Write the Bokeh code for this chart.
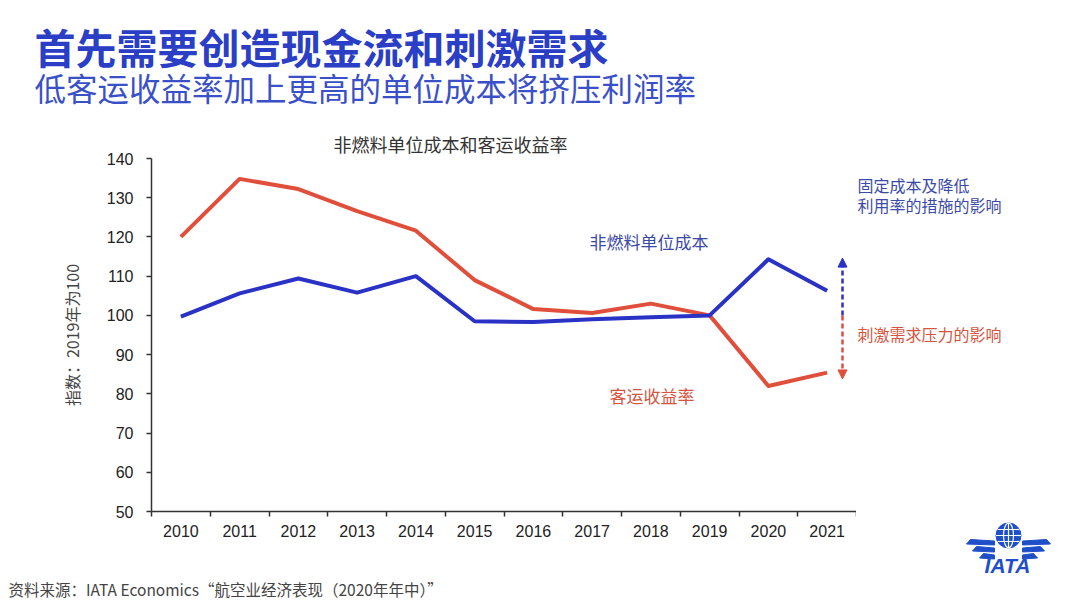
import numpy as np
from bokeh.plotting import figure
from bokeh.layouts import column, row
from bokeh.models import Label, Arrow, NormalHead, FixedTicker, Range1d
from bokeh.embed import file_html
from bokeh.resources import INLINE

# ---------------- data ----------------
years = ["2010", "2011", "2012", "2013", "2014", "2015", "2016", "2017", "2018", "2019", "2020", "2021"]
passenger_yield = [120.0, 134.8, 132.2, 126.6, 121.6, 109.0, 101.6, 100.6, 103.0, 100.0, 82.0, 85.4]
nonfuel_unit_cost = [99.7, 105.6, 109.4, 105.8, 110.0, 98.5, 98.3, 99.0, 99.5, 100.0, 114.3, 106.3]
y_ticks = [50, 60, 70, 80, 90, 100, 110, 120, 130, 140]
cost_arrow = [100.0, 114.6]    # dashed arrow: impact of fixed costs / lower utilisation
demand_arrow = [100.0, 83.8]   # dashed arrow: impact of demand stimulation

title = "首先需要创造现金流和刺激需求"
subtitle = "低客运收益率加上更高的单位成本将挤压利润率"
chart_title = "非燃料单位成本和客运收益率"
y_label = "指数：2019年为100"
source_txt = "资料来源：IATA Economics“航空业经济表现（2020年年中）”"
note_cost = ["固定成本及降低", "利用率的措施的影响"]
note_demand = "刺激需求压力的影响"
name_cost = "非燃料单位成本"
name_yield = "客运收益率"

RED = "#e04f3b"
BLUE = "#2a32c6"
NOTE_BLUE = "#3b4aa6"
NOTE_RED = "#d4553f"
CJK = "Noto Sans CJK SC"
LAT = "Liberation Sans"

# ---------------- layout geometry (page pixels) ----------------
TOTAL_W, TOTAL_H = 1064, 600
HEAD_H = 120
FRAME_L, FRAME_R = 151, 856
FRAME_T, FRAME_B = 158, 511
FOOT_T = 548
MAIN_W = FRAME_R
MAIN_H = FOOT_T - HEAD_H
SIDE_W = TOTAL_W - MAIN_W
FOOT_H = TOTAL_H - FOOT_T


def blank(w, h, x0, y0):
    f = figure(width=w, height=h, x_range=Range1d(x0, x0 + w), y_range=Range1d(y0 + h, y0),
               x_axis_type=None, y_axis_type=None, output_backend="svg", toolbar_location=None,
               min_border=0)
    f.outline_line_color = None
    f.grid.visible = False
    return f


def label(f, text, x, y, size, color, font=CJK, style="normal", align="left"):
    f.add_layout(Label(x=x, y=y, text=text, text_font=font, text_font_size=size,
                       text_color=color, text_font_style=style, text_align=align,
                       text_baseline="middle"))


# ---------------- header ----------------
head = blank(TOTAL_W, HEAD_H, 0, 0)
label(head, title, 34, 45, "41px", "#2a3ec6", style="bold")
label(head, subtitle, 34, 86, "31.5px", "#3a50c8")

# ---------------- main chart ----------------
p = figure(width=MAIN_W, height=MAIN_H, x_range=Range1d(0, len(years)), y_range=Range1d(50, 140),
           output_backend="svg", toolbar_location=None,
           min_border_left=FRAME_L, min_border_right=0,
           min_border_top=FRAME_T - HEAD_H, min_border_bottom=MAIN_H - (FRAME_B - HEAD_H))
p.outline_line_color = None
p.grid.visible = False
p.title.text = chart_title
p.title.align = "left"
p.title.offset = 333 - FRAME_L
p.title.text_font = CJK
p.title.text_font_size = "18px"
p.title.text_font_style = "normal"
p.title.text_color = "#333333"
p.title.standoff = 4

UNIT = (FRAME_R - FRAME_L) / len(years)
def dx(page_x):
    return (page_x - FRAME_L) / UNIT
def dy(page_y):
    return 140 - (page_y - FRAME_T) / (FRAME_B - FRAME_T) * 90

xs = [i + 0.5 for i in range(len(years))]

xa = p.xaxis[0]
xa.ticker = FixedTicker(ticks=xs, minor_ticks=list(range(len(years) + 1)))
xa.major_label_overrides = {x: y for x, y in zip(xs, years)}
xa.major_tick_out = 0
xa.major_tick_in = 0
xa.minor_tick_out = 5
xa.minor_tick_in = 0
xa.minor_tick_line_color = "#333333"
xa.minor_tick_line_width = 1.5
xa.axis_line_color = "#333333"
xa.axis_line_width = 1.5
xa.major_label_text_font = LAT
xa.major_label_text_font_size = "16px"
xa.major_label_text_color = "#222222"
xa.major_label_standoff = 8

ya = p.yaxis[0]
ya.ticker = FixedTicker(ticks=y_ticks)
ya.major_tick_out = 5
ya.major_tick_in = 0
ya.minor_tick_out = 0
ya.minor_tick_in = 0
ya.major_tick_line_color = "#333333"
ya.major_tick_line_width = 1.5
ya.axis_line_color = "#333333"
ya.axis_line_width = 1.5
ya.major_label_text_font = LAT
ya.major_label_text_font_size = "16px"
ya.major_label_text_color = "#222222"
ya.major_label_standoff = 13
ya.axis_label = y_label
ya.axis_label_text_font = CJK
ya.axis_label_text_font_size = "16px"
ya.axis_label_text_font_style = "normal"
ya.axis_label_text_color = "#444444"
ya.axis_label_standoff = 20

p.line(xs, passenger_yield, line_color=RED, line_width=4, line_join="round")
p.line(xs, nonfuel_unit_cost, line_color=BLUE, line_width=4, line_join="round")

ax = dx(842)
p.add_layout(Arrow(x_start=ax, y_start=cost_arrow[0], x_end=ax, y_end=cost_arrow[1],
                   line_color=BLUE, line_width=2.5, line_dash="5 3",
                   end=NormalHead(size=9, fill_color=BLUE, line_color=BLUE)))
p.add_layout(Arrow(x_start=ax, y_start=demand_arrow[0], x_end=ax, y_end=demand_arrow[1],
                   line_color=RED, line_width=2.5, line_dash="5 3",
                   end=NormalHead(size=9, fill_color=RED, line_color=RED)))

label(p, name_cost, dx(589), dy(241), "17px", NOTE_BLUE)
label(p, name_yield, dx(609), dy(395), "17px", NOTE_RED)

# ---------------- footer (source) ----------------
foot = blank(MAIN_W, FOOT_H, 0, FOOT_T)
label(foot, source_txt, 8, 588, "15.5px", "#444444")

# ---------------- right side: notes + IATA logo ----------------
side = blank(SIDE_W, TOTAL_H - HEAD_H, MAIN_W, HEAD_H)
label(side, note_cost[0], 857, 184, "16px", NOTE_BLUE)
label(side, note_cost[1], 857, 204, "16px", NOTE_BLUE)
label(side, note_demand, 857, 333, "16px", NOTE_RED)

LOGO = "#1e4fc8"
cx, cy, r = 1008, 535, 12.5
side.circle([cx], [cy], radius=r, fill_color=LOGO, line_color=LOGO)
side.ellipse([cx], [cy], width=10, height=2 * r, fill_alpha=0, line_color="white", line_width=1.2)
offs = [-6, 0, 6]
halves = [float(np.sqrt(r * r - o * o)) for o in offs]
side.segment([cx - h for h in halves], [cy + o for o in offs], [cx + h for h in halves], [cy + o for o in offs],
             line_color="white", line_width=1.2)
side.segment([cx], [cy - r], [cx], [cy + r], line_color="white", line_width=1.2)
wx, wy = [], []
for x0, yy in [(970, 539), (976, 546), (983, 553)]:
    for s in (-1, 1):
        xa0 = cx + s * (cx - x0)
        xa1 = cx + s * 14
        wx.append([xa0, xa1, xa1, xa0 + s * 4])
        wy.append([yy, yy + 1.5, yy + 5.5, yy + 4.5])
side.patches(wx, wy, fill_color=LOGO, line_color=LOGO)
label(side, "IATA", 1007, 565, "21px", LOGO, font=LAT, style="bold italic", align="center")

layout = column(head, row(column(row(p), row(foot)), side))
open("out.html", "w").write(file_html(layout, INLINE))
